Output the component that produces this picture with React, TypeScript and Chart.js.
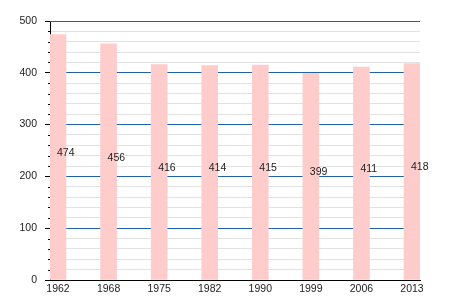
import React, { useEffect, useRef } from "react";
import { Chart, registerables } from "chart.js";

Chart.register(...registerables);

const years = ["1962", "1968", "1975", "1982", "1990", "1999", "2006", "2013"];
const population = [474, 456, 416, 414, 415, 399, 411, 418];

const FONT = "'Liberation Sans', Arial, sans-serif";
const BLUE = "#1f62a6";

const extras = {
  id: "extras",
  beforeDatasetsDraw(chart: any) {
    const ctx = chart.ctx;
    const y = chart.scales.y;
    const area = chart.chartArea;
    ctx.save();
    ctx.lineWidth = 1;
    ctx.strokeStyle = "#000";
    y.ticks.forEach((t: any) => {
      if (t.value % 100 !== 0) {
        const py = Math.round(y.getPixelForValue(t.value)) + 0.5;
        ctx.beginPath();
        ctx.moveTo(area.left - 2, py);
        ctx.lineTo(area.left, py);
        ctx.stroke();
      }
    });
    ctx.restore();
  },
  afterDraw(chart: any) {
    const ctx = chart.ctx;
    const y = chart.scales.y;
    const area = chart.chartArea;
    ctx.save();
    const yTop = Math.round(y.getPixelForValue(500)) + 0.5;
    ctx.strokeStyle = BLUE;
    ctx.lineWidth = 1;
    ctx.beginPath();
    ctx.moveTo(area.left, yTop);
    ctx.lineTo(area.right, yTop);
    ctx.stroke();
    ctx.strokeStyle = "#000";
    ctx.beginPath();
    ctx.moveTo(area.left - 5, yTop);
    ctx.lineTo(area.left, yTop);
    ctx.stroke();
    ctx.restore();
  },
  afterDatasetsDraw(chart: any) {
    const ctx = chart.ctx;
    const meta = chart.getDatasetMeta(0);
    ctx.save();
    ctx.font = `10.5px ${FONT}`;
    ctx.fillStyle = "#222";
    ctx.textAlign = "left";
    ctx.textBaseline = "middle";
    meta.data.forEach((bar: any, i: number) => {
      const y = (bar.y + bar.base) / 2 - 4;
      ctx.fillText(String(population[i]), bar.x - 1, y);
    });
    ctx.restore();
  },
};

export default function App() {
  const ref = useRef<HTMLCanvasElement>(null);
  useEffect(() => {
    const chart = new Chart(ref.current!, {
      type: "bar",
      data: {
        datasets: [
          {
            data: population.map((v, i) => ({ x: i, y: v })),
            backgroundColor: "rgb(255,204,204)",
            borderWidth: 0,
            barThickness: 16,
          },
        ],
      },
      options: {
        animation: false,
        responsive: false,
        maintainAspectRatio: false,
        layout: { padding: { left: 0, top: 21, right: 30, bottom: 0 } },
        plugins: { legend: { display: false }, tooltip: { enabled: false } },
        scales: {
          x: {
            type: "linear",
            offset: false,
            min: -0.158,
            max: 7.158,
            afterBuildTicks: (scale: any) => {
              scale.ticks = years.map((_, i) => ({ value: i }));
            },
            afterFit: (scale: any) => {
              scale.height = 20;
            },
            grid: { color: "transparent", drawTicks: false, offset: false },
            border: { display: true, color: "#000", width: 1 },
            ticks: {
              autoSkip: false,
              maxRotation: 0,
              padding: 3,
              color: "#222",
              font: { family: FONT, size: 10.5 },
              callback: (v: any) => years[v] ?? "",
            },
          },
          y: {
            min: 0,
            max: 500,
            afterFit: (scale: any) => {
              scale.width = 50;
            },
            border: { display: true, color: "#000", width: 1 },
            grid: {
              color: (c: any) => {
                const v = c.tick?.value;
                if (v === 0) return "#000";
                return v % 100 === 0 ? BLUE : "#e2e2e2";
              },
              tickColor: (c: any) => (c.tick && c.tick.value % 100 === 0 ? "#000" : "transparent"),
              tickLength: 5,
            },
            ticks: {
              stepSize: 20,
              autoSkip: false,
              padding: 8,
              color: "#222",
              font: { family: FONT, size: 10.5 },
              callback: (v: any) => (v % 100 === 0 ? String(v) : ""),
            },
          },
        },
      },
      plugins: [extras],
    });
    return () => chart.destroy();
  }, []);
  return (
    <div style={{ position: "absolute", left: 0, top: 0, width: 450, height: 300 }}>
      <canvas ref={ref} width={450} height={300} style={{ width: 450, height: 300 }} />
    </div>
  );
}
